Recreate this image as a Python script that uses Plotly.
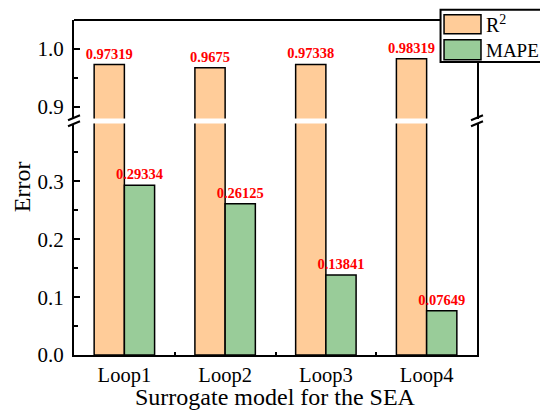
import plotly.graph_objects as go

categories = ["Loop1", "Loop2", "Loop3", "Loop4"]
r2_values = [0.97319, 0.9675, 0.97338, 0.98319]
mape_values = [0.29334, 0.26125, 0.13841, 0.07649]
r2_labels = ["0.97319", "0.9675", "0.97338", "0.98319"]
mape_labels = ["0.29334", "0.26125", "0.13841", "0.07649"]
series_names = ["R<sup>2</sup>", "MAPE"]
lower_ticks = [0.0, 0.1, 0.2, 0.3]
upper_ticks = [0.9, 1.0]

# layout geometry (pixels)
FW, FH = 540, 410
L, R, T, B = 74, 477.5, 19.5, 355.3
W, H = R - L, B - T
def px(x):
    return (x - L) / W
def py(y):
    return (B - y) / H

R2_COLOR = "#FFCC99"
MAPE_COLOR = "#99CC99"
FONT = "Liberation Serif, Times New Roman, serif"
xpos = list(range(len(categories)))

fig = go.Figure()
for yax, show_r2_text, show_m_text in [("y", False, True), ("y2", True, False)]:
    fig.add_trace(go.Bar(
        x=xpos, y=r2_values, xaxis="x", yaxis=yax, name=series_names[0],
        width=0.3, offset=-0.3, marker=dict(color=R2_COLOR, line=dict(color="black", width=1.5)),
        text=r2_labels if show_r2_text else None,
        textposition="outside" if show_r2_text else "none",
        textfont=dict(family=FONT, size=14.5, color="#FF0000", weight="bold"),
        constraintext="none", cliponaxis=True, showlegend=False))
    fig.add_trace(go.Bar(
        x=xpos, y=mape_values, xaxis="x", yaxis=yax, name=series_names[1],
        width=0.3, offset=0.0, marker=dict(color=MAPE_COLOR, line=dict(color="black", width=1.5)),
        text=mape_labels if show_m_text else None,
        textposition="outside" if show_m_text else "none",
        textfont=dict(family=FONT, size=14.5, color="#FF0000", weight="bold"),
        constraintext="none", cliponaxis=True, showlegend=False))

lower_top = py(123.3)
upper_bot = py(118.3)

axis_common = dict(showline=True, linecolor="black", linewidth=2, mirror=True,
                   showgrid=False, zeroline=False, ticks="inside", ticklen=6, tickwidth=2,
                   tickcolor="black", tickfont=dict(family=FONT, size=21, color="black"),
                   ticklabelstandoff=4)

fig.update_layout(
    width=FW, height=FH, margin=dict(l=L, r=FW - R, t=T, b=FH - B),
    paper_bgcolor="white", plot_bgcolor="white", barmode="overlay",
    showlegend=False,
    xaxis=dict(range=[-0.5, 3.5], tickvals=xpos, ticktext=categories,
               showline=True, linecolor="black", linewidth=2, showgrid=False, zeroline=False,
               ticks="", tickfont=dict(family=FONT, size=20.5, color="black"),
               minor=dict(tickvals=[0.5, 1.5, 2.5], ticks="inside", ticklen=3, tickwidth=2, tickcolor="black"),
               anchor="y"),
    yaxis=dict(domain=[0, lower_top], range=[0, 0.4], tickvals=lower_ticks, tickformat=".1f",
               minor=dict(tickvals=[0.05, 0.15, 0.25, 0.35], ticks="inside", ticklen=4, tickwidth=2, tickcolor="black"),
               anchor="x", **axis_common),
    yaxis2=dict(domain=[upper_bot, 1], range=[0.88, 1.05], tickvals=upper_ticks, tickformat=".1f",
                minor=dict(tickvals=[0.95], ticks="inside", ticklen=4, tickwidth=2, tickcolor="black"),
                anchor="x", **axis_common),
)

shapes = []
# top frame line
shapes.append(dict(type="line", xref="paper", yref="paper", x0=0, x1=1, y0=1, y1=1,
                   line=dict(color="black", width=2), layer="above"))
# break marks
for xc in (L, R):
    for yc in (117.5, 123.5):
        shapes.append(dict(type="line", xref="paper", yref="paper",
                           x0=px(xc - 6), y0=py(yc + 2.5), x1=px(xc + 6), y1=py(yc - 2.5),
                           line=dict(color="black", width=2), layer="above"))
# custom legend
shapes.append(dict(type="rect", xref="paper", yref="paper",
                   x0=px(441), x1=px(542), y0=py(61.7), y1=py(9.3),
                   fillcolor="white", line=dict(color="black", width=2), layer="above"))
shapes.append(dict(type="rect", xref="paper", yref="paper",
                   x0=px(444.5), x1=px(481.5), y0=py(33.3), y1=py(14.3),
                   fillcolor=R2_COLOR, line=dict(color="black", width=1.5), layer="above"))
shapes.append(dict(type="rect", xref="paper", yref="paper",
                   x0=px(444.5), x1=px(481.5), y0=py(59.3), y1=py(39.3),
                   fillcolor=MAPE_COLOR, line=dict(color="black", width=1.5), layer="above"))
fig.update_layout(shapes=shapes)

annotations = [
    dict(text=series_names[0], xref="paper", yref="paper", x=px(485), y=py(24), xanchor="left",
         yanchor="middle", showarrow=False, font=dict(family=FONT, size=20, color="black")),
    dict(text=series_names[1], xref="paper", yref="paper", x=px(485), y=py(50), xanchor="left",
         yanchor="middle", showarrow=False, font=dict(family=FONT, size=19, color="black")),
    dict(text="Error", xref="paper", yref="paper", x=px(22), y=py(187), xanchor="center",
         yanchor="middle", textangle=-90, showarrow=False, font=dict(family=FONT, size=24, color="black")),
    dict(text="Surrogate model for the SEA", xref="paper", yref="paper", x=0.5, y=py(397),
         xanchor="center", yanchor="middle", showarrow=False, font=dict(family=FONT, size=24, color="black")),
]
fig.update_layout(annotations=annotations)

fig.write_html("out.html")
